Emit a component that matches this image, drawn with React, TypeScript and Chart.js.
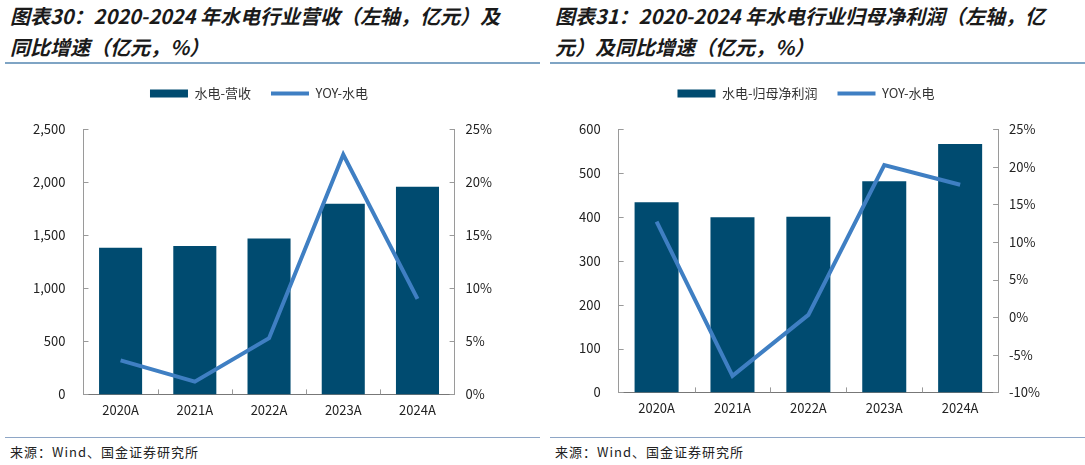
import * as React from 'react';
import {useRef, useEffect} from 'react';
import {Chart, registerables} from 'chart.js';

Chart.register(...registerables);

const years = ['2020A', '2021A', '2022A', '2023A', '2024A'];
const revenue = [1381, 1397, 1469, 1796, 1956];
const revenueYoy = [3.2, 1.2, 5.3, 22.6, 9.0];
const profit = [433, 399, 400, 481, 566];
const profitYoy = [12.7, -7.8, 0.3, 20.2, 17.6];

const BAR = '#004b70';
const LINE = '#3f7fc3';
const AXIS = '#9a9a9a';
const FONT = "'Noto Sans CJK SC', 'Noto Sans', sans-serif";

// push the plot area down below the legend
const legendGap = {
  id: 'legendGap',
  beforeInit(chart: any) {
    const orig = chart.legend.fit;
    chart.legend.fit = function () {
      orig.bind(chart.legend)();
      this.height += 19;
    };
  },
};

// small tick marks pointing into the plot
const innerTicks = {
  id: 'innerTicks',
  afterDatasetsDraw(chart: any) {
    const {ctx, chartArea, scales} = chart;
    ctx.save();
    ctx.strokeStyle = AXIS;
    ctx.lineWidth = 1;
    ctx.beginPath();
    scales.y.ticks.forEach((t: any) => {
      const y = Math.round(scales.y.getPixelForValue(t.value)) + 0.5;
      ctx.moveTo(chartArea.left, y);
      ctx.lineTo(chartArea.left + 5, y);
    });
    scales.y1.ticks.forEach((t: any) => {
      const y = Math.round(scales.y1.getPixelForValue(t.value)) + 0.5;
      ctx.moveTo(chartArea.right - 5, y);
      ctx.lineTo(chartArea.right, y);
    });
    const n = scales.x.ticks.length;
    for (let i = 1; i < n; i++) {
      const x = Math.round((scales.x.getPixelForTick(i - 1) + scales.x.getPixelForTick(i)) / 2) + 0.5;
      ctx.moveTo(x, chartArea.bottom);
      ctx.lineTo(x, chartArea.bottom - 5);
    }
    ctx.stroke();
    ctx.restore();
  },
};

interface ComboProps {
  barLabel: string,
  bars: Array<number>,
  yoy: Array<number>,
  yMax: number,
  yStep: number,
  pMin: number,
  pMax: number,
  padLeft: number,
  padRight: number,
  height: number,
}

function ComboChart({barLabel, bars, yoy, yMax, yStep, pMin, pMax, padLeft, padRight, height}: ComboProps): JSX.Element {
  const canvasRef = useRef<HTMLCanvasElement>(null);

  useEffect(() => {
    if (!canvasRef.current) return;
    const tickFont = {family: FONT, size: 13};
    const chart = new Chart(canvasRef.current, {
      type: 'bar',
      data: {
        labels: years,
        datasets: [
          {
            type: 'bar',
            label: barLabel,
            data: bars,
            backgroundColor: BAR,
            borderWidth: 0,
            categoryPercentage: 1,
            barPercentage: 0.58,
            yAxisID: 'y',
            order: 1,
            pointStyle: 'rect',
          } as any,
          {
            type: 'line',
            label: 'YOY-水电',
            data: yoy,
            borderColor: LINE,
            backgroundColor: LINE,
            borderWidth: 4,
            pointRadius: 0,
            tension: 0,
            yAxisID: 'y1',
            order: 0,
            pointStyle: 'line',
          },
        ],
      },
      options: {
        animation: false,
        responsive: false,
        layout: {padding: {left: padLeft, right: padRight, top: 6, bottom: 8}},
        plugins: {
          tooltip: {enabled: false},
          legend: {
            position: 'top',
            labels: {
              usePointStyle: true,
              pointStyleWidth: 38,
              boxHeight: 8,
              padding: 20,
              color: '#333',
              font: {family: FONT, size: 13},
              sort: (a: any, b: any) => a.datasetIndex - b.datasetIndex,
            },
          },
        },
        scales: {
          x: {
            grid: {display: false, drawTicks: false},
            border: {color: '#777'},
            ticks: {color: '#222', font: tickFont, padding: 8},
          },
          y: {
            position: 'left',
            min: 0,
            max: yMax,
            grid: {display: false, drawTicks: false},
            border: {color: AXIS},
            ticks: {
              stepSize: yStep,
              color: '#222',
              font: tickFont,
              padding: 18,
              callback: (v: any) => Number(v).toLocaleString('en-US'),
            },
          },
          y1: {
            position: 'right',
            min: pMin,
            max: pMax,
            grid: {display: false, drawTicks: false},
            border: {color: AXIS},
            ticks: {
              stepSize: 5,
              color: '#222',
              font: tickFont,
              padding: 11,
              callback: (v: any) => v + '%',
            },
          },
        },
      },
      plugins: [legendGap, innerTicks],
    });
    return () => chart.destroy();
  }, [barLabel, bars, yoy, yMax, yStep, pMin, pMax, padLeft, padRight, height]);

  return <canvas ref={canvasRef} width={540} height={height} style={{width: 540, height, display: 'block'}} />;
}

interface PanelProps {
  left: number,
  width: number,
  titleLines: Array<string>,
  children: React.ReactNode,
}

function Panel({left, width, titleLines, children}: PanelProps): JSX.Element {
  return (
    <div style={{position: 'absolute', left, top: 0, width, height: 465}}>
      <div style={{
        position: 'absolute', left: 10, top: 0, fontFamily: FONT, fontSize: 20, fontWeight: 700,
        fontStyle: 'italic', lineHeight: '31px', color: '#1a1a1a', whiteSpace: 'nowrap',
      }}>
        {titleLines.map((t) => <div key={t}>{t}</div>)}
      </div>
      <div style={{position: 'absolute', left: 5, right: 0, top: 62, height: 2, background: '#7fa4c4'}} />
      <div style={{position: 'absolute', left: 0, top: 61}}>{children}</div>
      <div style={{position: 'absolute', left: 5, right: 0, top: 437, height: 1, background: '#8ea6c6'}} />
      <div style={{
        position: 'absolute', left: 10, top: 442, fontFamily: FONT, fontSize: 13, color: '#222',
        letterSpacing: 1,
      }}>
        来源：Wind、国金证券研究所
      </div>
    </div>
  );
}

export default function App(): JSX.Element {
  return (
    <div style={{position: 'absolute', left: 0, top: 0, width: 1085, height: 465, background: '#fff', overflow: 'hidden'}}>
      <Panel left={0} width={540} titleLines={['图表30：2020-2024 年水电行业营收（左轴，亿元）及', '同比增速（亿元，%）']}>
        <ComboChart barLabel="水电-营收" bars={revenue} yoy={revenueYoy} yMax={2500} yStep={500}
          pMin={0} pMax={25} padLeft={15} padRight={37} height={373} />
      </Panel>
      <Panel left={545} width={540} titleLines={['图表31：2020-2024 年水电行业归母净利润（左轴，亿', '元）及同比增速（亿元，%）']}>
        <ComboChart barLabel="水电-归母净利润" bars={profit} yoy={profitYoy} yMax={600} yStep={100}
          pMin={-10} pMax={25} padLeft={16} padRight={34} height={371} />
      </Panel>
    </div>
  );
}
